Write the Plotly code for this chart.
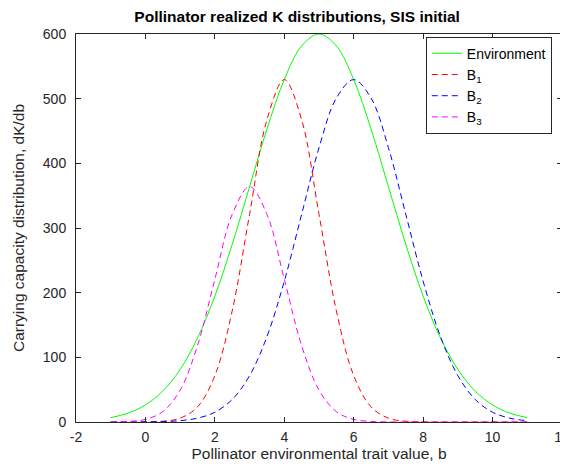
import plotly.graph_objects as go

# trait values b
b = [-1, -0.5, 0, 0.5, 1, 1.5, 2, 2.5, 3, 3.5, 4, 4.5, 5, 5.5, 6, 6.5, 7, 7.5, 8, 8.5, 9, 9.5, 10, 10.5, 11]

environment = [6.7, 13.7, 26.4, 47.8, 81.2, 129.8, 194.8, 274.7, 363.9, 452.9, 529.5, 581.5, 600,
               581.5, 529.5, 452.9, 363.9, 274.7, 194.8, 129.8, 81.2, 47.8, 26.4, 13.7, 6.7]
b1 = [0, 0, 0.2, 1.2, 5.9, 23.3, 71.7, 171.9, 321.2, 467.3, 529.5, 467.3, 321.2,
      171.9, 71.7, 23.3, 5.9, 1.2, 0.2, 0, 0, 0, 0, 0, 0]
b2 = [0, 0.04, 0.18, 0.64, 2.05, 5.9, 15.1, 34.8, 71.7, 132.0, 217.7, 321.2, 424.0, 500.9, 529.5,
      500.9, 424.0, 321.2, 217.7, 132.0, 71.7, 34.8, 15.1, 5.9, 2.05]
b3 = [0.1, 0.8, 4.0, 16.0, 49.3, 118.1, 220.7, 321.2, 363.9, 321.2, 220.7, 118.1, 49.3,
      16.0, 4.0, 0.8, 0.1, 0, 0, 0, 0, 0, 0, 0, 0]

names = ["Environment", "B<sub>1</sub>", "B<sub>2</sub>", "B<sub>3</sub>"]
x_ticks = [-2, 0, 2, 4, 6, 8, 10, 12]
x_tick_labels = ["-2", "0", "2", "4", "6", "8", "10", "12"]
y_ticks = [0, 100, 200, 300, 400, 500, 600]
y_tick_labels = ["0", "100", "200", "300", "400", "500", "600"]

txt = "#262626"
font_family = "Liberation Sans, Arial, sans-serif"

fig = go.Figure()
fig.add_trace(go.Scatter(x=b, y=environment, mode="lines", name=names[0],
                         line=dict(color="#00FF00", width=1, shape="spline")))
fig.add_trace(go.Scatter(x=b, y=b1, mode="lines", name=names[1],
                         line=dict(color="#FF0000", width=1, dash="6px,4px", shape="spline")))
fig.add_trace(go.Scatter(x=b, y=b2, mode="lines", name=names[2],
                         line=dict(color="#0000FF", width=1, dash="6px,4px", shape="spline")))
fig.add_trace(go.Scatter(x=b, y=b3, mode="lines", name=names[3],
                         line=dict(color="#FF00FF", width=1, dash="6px,4px", shape="spline")))

axis_common = dict(showgrid=False, zeroline=False, showline=True, linecolor=txt, linewidth=1,
                   mirror="ticks", ticks="inside", ticklen=5, tickcolor=txt, automargin=False,
                   tickfont=dict(family=font_family, size=14, color=txt))

fig.update_layout(
    width=568, height=470,
    paper_bgcolor="white", plot_bgcolor="white",
    margin=dict(l=68, r=14, t=26, b=56),
    font=dict(family=font_family, color=txt),
    title=dict(text="<b>Pollinator realized K distributions, SIS initial</b>",
               x=0.509, xanchor="center", y=0.994, yanchor="top",
               font=dict(family=font_family, size=15.5, color="black")),
    xaxis=dict(range=[-2, 12], tickvals=x_ticks, ticktext=x_tick_labels, ticklabelstandoff=2,
               **axis_common,
               title=dict(text="Pollinator environmental trait value, b", standoff=2,
                          font=dict(family=font_family, size=15.5, color=txt))),
    yaxis=dict(range=[0, 600], tickvals=y_ticks, ticktext=y_tick_labels, ticklabelstandoff=6,
               **axis_common,
               title=dict(text="Carrying capacity distribution, dK/db", standoff=14,
                          font=dict(family=font_family, size=15.5, color=txt))),
    legend=dict(x=0.979, y=0.993, xanchor="right", yanchor="top",
                bgcolor="white", bordercolor=txt, borderwidth=1,
                font=dict(family=font_family, size=14, color="black"),
                tracegroupgap=0),
    showlegend=True,
)

fig.write_html("out.html")
